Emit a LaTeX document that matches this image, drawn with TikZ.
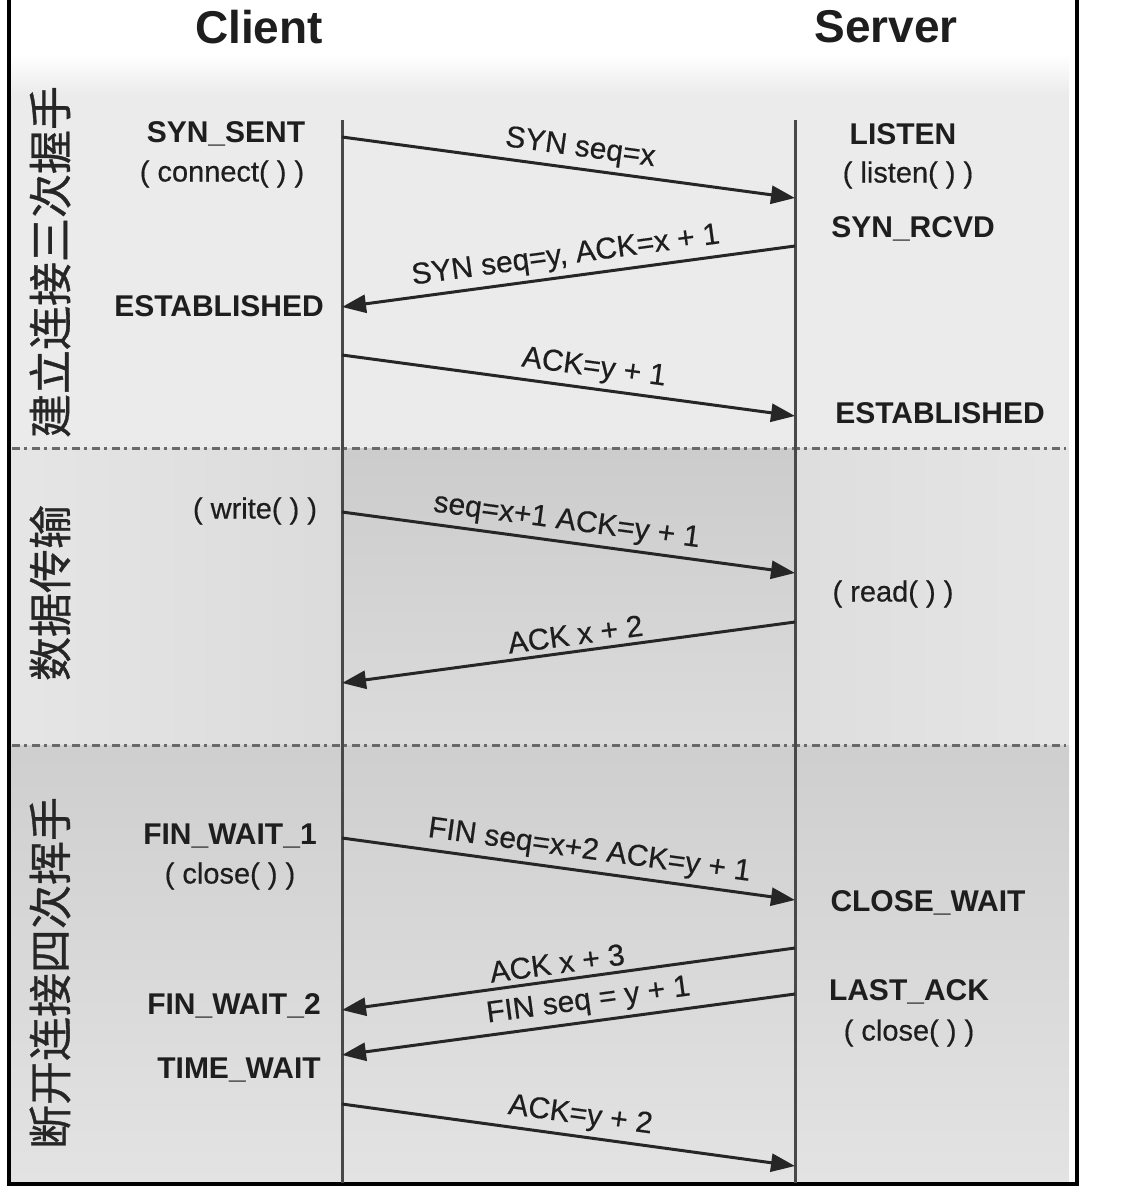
\documentclass[tikz,border=0pt]{standalone}
\usepackage{fontspec}
\setmainfont{Liberation Sans}
\newfontfamily\cjk{Noto Sans CJK SC}[FakeBold=0.8]
\newfontfamily\msgfont{Liberation Sans}[FakeBold=0.5]
\usetikzlibrary{arrows.meta}
\definecolor{tcpline}{RGB}{38,38,38}
\definecolor{tcplife}{RGB}{72,72,72}
\definecolor{tcpsep}{RGB}{105,105,105}
\definecolor{tcptext}{RGB}{30,30,30}

\begin{document}
\begin{tikzpicture}[
    x=1pt, y=-1pt,
    hdr/.style={font=\fontsize{46}{50}\selectfont\bfseries,text=tcptext},
    st/.style={font=\fontsize{30}{34}\selectfont\bfseries,text=tcptext,inner sep=0pt},
    call/.style={font=\fontsize{29}{34}\selectfont\msgfont,text=tcptext,inner sep=0pt},
    phasetxt/.style={font=\fontsize{44}{48}\selectfont\cjk,rotate=90,text=black!85,inner sep=0pt},
    lifeline/.style={line width=3pt,tcplife},
    phasesep/.style={line width=3pt,tcpsep,dash pattern=on 8pt off 4pt on 3pt off 5pt},
    msg/.style={-{Triangle[length=24pt,width=18pt]},line width=3pt,tcpline},
    lbl/.style={font=\fontsize{30}{34}\selectfont\msgfont,sloped,above,inner sep=5pt,text=tcptext}
  ]
  \useasboundingbox (0,0) rectangle (1126,1188);

  % bands
  \fill[white] (0,0) rectangle (1126,1188);
  \shade[top color=white,bottom color=black!8] (11,55) rectangle (1069,95);
  \fill[black!8] (11,95) rectangle (1069,448);
  \shade[left color=black!10,right color=black!14] (11,448) rectangle (342,745);
  \shade[top color=black!20,bottom color=black!14] (342,448) rectangle (795,745);
  \shade[left color=black!13,right color=black!10] (795,448) rectangle (1069,745);
  \shade[top color=black!19,bottom color=black!11] (11,745) rectangle (1069,1183);
  \draw[phasesep] (12,448) -- (1066,448);
  \draw[phasesep] (12,745) -- (1066,745);
  \draw[line width=4pt,black] (9,0) -- (9,1184) -- (1077,1184) -- (1077,0);

  % headers and phases
  \node[hdr] (client) at (259,27) {Client};
  \node[hdr] (server) at (886,27) {Server};
  \node[phasetxt] (ph1) at (50,262) {建立连接三次握手};
  \node[phasetxt] (ph2) at (50,593) {数据传输};
  \node[phasetxt] (ph3) at (50,973) {断开连接四次挥手};

  % lifelines
  \coordinate (ctop) at (342,120);
  \coordinate (cbot) at (342,1183);
  \coordinate (stop) at (795,120);
  \coordinate (sbot) at (795,1183);
  \draw[lifeline] (ctop) -- (cbot);
  \draw[lifeline] (stop) -- (sbot);

  % client states
  \node[st] (synsent) at (226,134) {SYN\_SENT};
  \node[call] (connect) at (222,174) {( connect( ) )};
  \node[st] (cest) at (219,306) {ESTABLISHED};
  \node[call] (write) at (255,511) {( write( ) )};
  \node[st] (finw1) at (230,836) {FIN\_WAIT\_1};
  \node[call] (cclose) at (230,876) {( close( ) )};
  \node[st] (finw2) at (234,1006) {FIN\_WAIT\_2};
  \node[st] (timew) at (239,1070) {TIME\_WAIT};

  % server states
  \node[st] (listen) at (903,134) {LISTEN};
  \node[call] (listenc) at (908,175) {( listen( ) )};
  \node[st] (synrcvd) at (913,229) {SYN\_RCVD};
  \node[st] (sest) at (940,413) {ESTABLISHED};
  \node[call] (read) at (893,594) {( read( ) )};
  \node[st] (closew) at (928,903) {CLOSE\_WAIT};
  \node[st] (lastack) at (909,992) {LAST\_ACK};
  \node[call] (sclose) at (909,1033) {( close( ) )};

  % message ends
  \coordinate (c1) at (342,137);  \coordinate (s1) at (795,198);
  \coordinate (s2) at (795,246);  \coordinate (c2) at (342,307);
  \coordinate (c3) at (342,355);  \coordinate (s3) at (795,416);
  \coordinate (c4) at (342,512);  \coordinate (s4) at (795,573);
  \coordinate (s5) at (795,622);  \coordinate (c5) at (342,683);
  \coordinate (c6) at (342,838);  \coordinate (s6) at (795,900);
  \coordinate (s7) at (795,948);  \coordinate (c7) at (342,1010);
  \coordinate (s8) at (795,994);  \coordinate (c8) at (342,1055);
  \coordinate (c9) at (342,1104); \coordinate (s9) at (795,1166);

  % messages
  \foreach \a/\b/\p/\t in {c1/s1/0.52/{SYN seq=x},
      s2/c2/0.5/{SYN seq=y, ACK=x + 1},
      c3/s3/0.55/{ACK=y + 1},
      c4/s4/0.49/{seq=x+1 ACK=y + 1},
      s5/c5/0.48/{ACK x + 2},
      c6/s6/0.54/{FIN seq=x+2 ACK=y + 1},
      s7/c7/0.52/{ACK x + 3},
      s8/c8/0.45/{FIN seq = y + 1},
      c9/s9/0.52/{ACK=y + 2}}
    \draw[msg] (\a) -- node[lbl,pos=\p] {\t} (\b);
\end{tikzpicture}
\end{document}
